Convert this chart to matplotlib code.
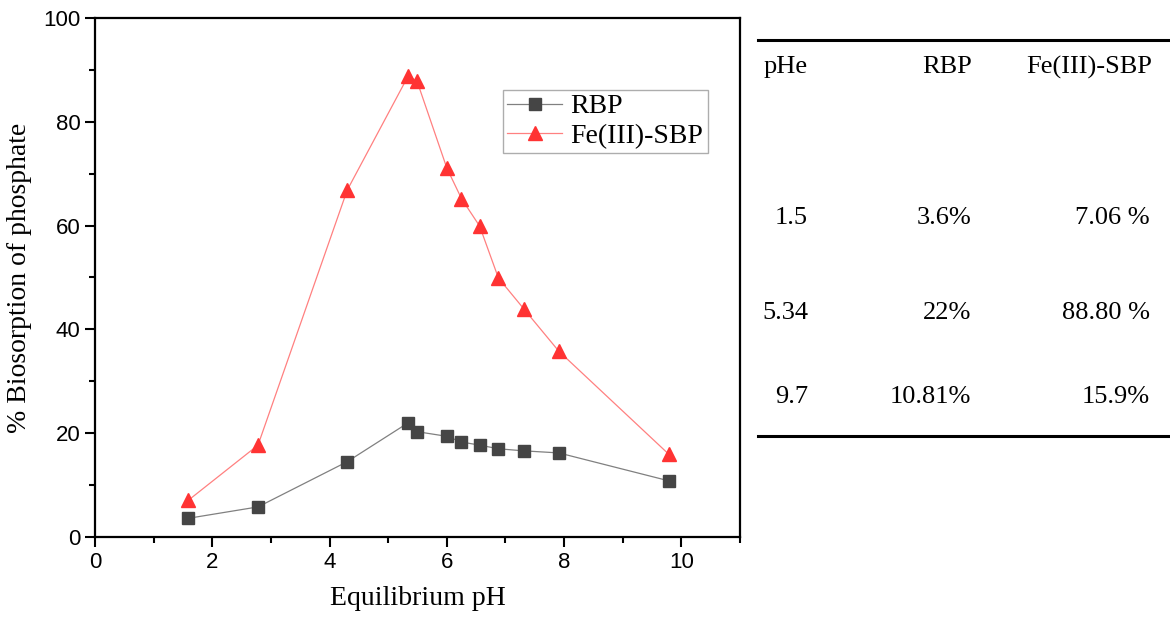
import matplotlib.pyplot as plt
from matplotlib.lines import Line2D

# data
ph = [1.59, 2.78, 4.30, 5.34, 5.49, 6.00, 6.25, 6.56, 6.88, 7.31, 7.91, 9.79]
rbp = [3.6, 5.8, 14.5, 22.0, 20.3, 19.4, 18.3, 17.7, 17.0, 16.6, 16.2, 10.81]
fe_sbp = [7.06, 17.7, 66.8, 88.8, 87.9, 71.1, 65.2, 59.9, 49.9, 44.0, 35.8, 15.9]

# table on the right
table_header = ["pHe", "RBP", "Fe(III)-SBP"]
table_ph = ["1.5", "5.34", "9.7"]
table_rbp = ["3.6%", "22%", "10.81%"]
table_fe = ["7.06 %", "88.80 %", "15.9%"]

serif = "Liberation Serif"
sans = "Liberation Sans"

fig = plt.figure(figsize=(11.7, 6.21), dpi=100)
ax = fig.add_axes([95/1170, 1-537/621, (740-95)/1170, (537-18)/621])

ax.plot(ph, rbp, color="#808080", lw=0.9, marker="s", ms=9,
        mfc="#454545", mec="#454545", label="RBP")
ax.plot(ph, fe_sbp, color="#ff8080", lw=0.9, marker="^", ms=10.5,
        mfc="#ff3333", mec="#ff3333", label="Fe(III)-SBP")

ax.set_xlim(0, 11)
ax.set_ylim(0, 100)
ax.set_xticks([0, 2, 4, 6, 8, 10])
ax.set_xticks(range(0, 12), minor=True)
ax.set_yticks([0, 20, 40, 60, 80, 100])
ax.set_yticks(range(0, 101, 10), minor=True)
ax.tick_params(which="major", direction="out", length=7, width=1.5,
               labelsize=16, top=False, right=False)
ax.tick_params(which="minor", direction="out", length=4, width=1.5,
               top=False, right=False)
for lab in ax.get_xticklabels() + ax.get_yticklabels():
    lab.set_fontfamily(sans)
for s in ax.spines.values():
    s.set_linewidth(1.6)

ax.set_xlabel("Equilibrium pH", fontfamily=serif, fontsize=20, labelpad=10)
ax.set_ylabel("% Biosorption of phosphate", fontfamily=serif, fontsize=20, labelpad=8)

leg = ax.legend(loc="upper left", bbox_to_anchor=(0.632, 0.862),
                prop={"family": serif, "size": 20}, frameon=True,
                fancybox=False, handlelength=2.0, borderpad=0.15,
                labelspacing=0.15, handletextpad=0.3, borderaxespad=0)
leg.get_frame().set_edgecolor("#999999")
leg.get_frame().set_linewidth(1.0)

# table drawn in figure pixels
W, H = 1170, 621
def fx(px):
    return px / W
def fy(py):
    return 1 - py / H

for yl in (40, 436):
    fig.add_artist(Line2D([fx(758), fx(1170)], [fy(yl), fy(yl)],
                          color="black", lw=2.2, transform=fig.transFigure))

fs = 19
fig.text(fx(764), fy(67), table_header[0], ha="left", va="center", fontfamily=serif, fontsize=fs)
fig.text(fx(972), fy(67), table_header[1], ha="right", va="center", fontfamily=serif, fontsize=fs)
fig.text(fx(1152), fy(67), table_header[2], ha="right", va="center", fontfamily=serif, fontsize=fs)

row_y = [218, 313, 397]
for i, yy in enumerate(row_y):
    fig.text(fx(808), fy(yy), table_ph[i], ha="right", va="center", fontfamily=serif, fontsize=fs)
    fig.text(fx(971), fy(yy), table_rbp[i], ha="right", va="center", fontfamily=serif, fontsize=fs)
    fig.text(fx(1150), fy(yy), table_fe[i], ha="right", va="center", fontfamily=serif, fontsize=fs)

fig.savefig("out.png", dpi=100)
